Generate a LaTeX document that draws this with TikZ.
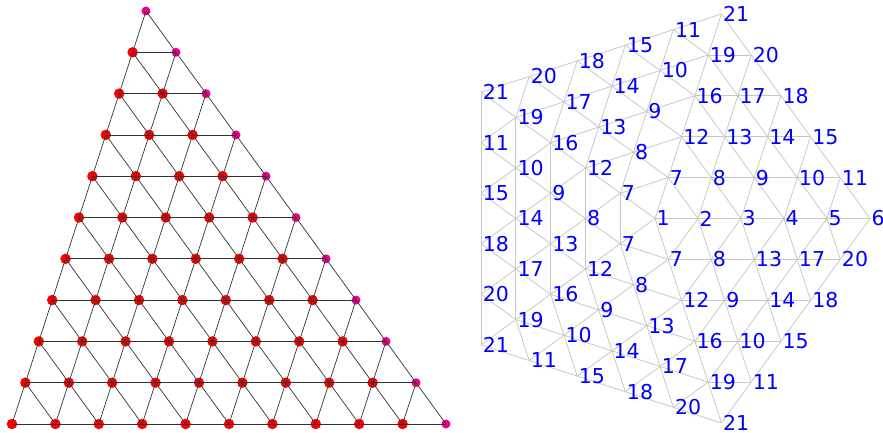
\documentclass[tikz,border=0pt]{standalone}
\usepackage{fontspec}
\setmainfont{DejaVu Sans}

\begin{document}
\begin{tikzpicture}[x=1pt, y=1pt,
    dot/.style={circle, inner sep=0pt, minimum size=10.5pt, fill=red},
    enddot/.style={circle, inner sep=0pt, minimum size=9pt, fill=magenta},
    tri/.style={black!80, line width=0.7pt},
    mesh/.style={black!22, line width=0.8pt},
    lbl/.style={anchor=west, inner xsep=1.5pt, inner ysep=0pt, text=blue,
      font=\fontsize{20.5}{24}\selectfont}]
  \useasboundingbox (0,0) rectangle (883,432);

  % left: triangular grid of 11 rows, last node of each row in magenta
  \foreach \k in {0,...,10} {
    \foreach \i in {0,...,\k} {
      \ifnum\i=\k
        \node[enddot] (t-\k-\i) at ({146-13.4*\k+43.4*\i}, {421-41.3*\k}) {};
      \else
        \node[dot] (t-\k-\i) at ({146-13.4*\k+43.4*\i}, {421-41.3*\k}) {};
      \fi
    }
  }
  \foreach \k in {0,...,9} {
    \pgfmathtruncatemacro\kk{\k+1}
    \foreach \i in {0,...,\k} {
      \pgfmathtruncatemacro\ii{\i+1}
      \draw[tri] (t-\k-\i.center) -- (t-\kk-\i.center);
      \draw[tri] (t-\k-\i.center) -- (t-\kk-\ii.center);
      \draw[tri] (t-\kk-\i.center) -- (t-\kk-\ii.center);
    }
  }

  % right: five sectors of 72 degrees round vertex 1
  \coordinate (o) at (655,213.5);
  \foreach \j in {0,...,4} {
    \foreach \a in {0,...,5} {
      \pgfmathtruncatemacro\bmax{5-\a}
      \foreach \b in {0,...,\bmax} {
        \coordinate (v-\j-\a-\b) at
          ({655+43*(\a*cos(72*\j)+\b*cos(72*\j+72))},
           {213.5+43*(\a*sin(72*\j)+\b*sin(72*\j+72))});
      }
    }
  }
  \foreach \j in {0,...,4} {
    \foreach \a in {0,...,4} {
      \pgfmathtruncatemacro\bmax{4-\a}
      \foreach \b in {0,...,\bmax} {
        \pgfmathtruncatemacro\aa{\a+1}
        \pgfmathtruncatemacro\bb{\b+1}
        \draw[mesh] (v-\j-\a-\b) -- (v-\j-\aa-\b);
        \draw[mesh] (v-\j-\aa-\b) -- (v-\j-\a-\bb);
        \ifnum\a>0 \draw[mesh] (v-\j-\a-\b) -- (v-\j-\a-\bb); \fi
      }
    }
  }

  % vertex numbers
  \node[lbl] (n-1) at (o) {1};
  \foreach \j in {0,...,4} {
    \foreach \a in {1,...,5} {
      \pgfmathtruncatemacro\bmax{5-\a}
      \foreach \b in {0,...,\bmax} {
        \pgfmathtruncatemacro\lab{\b==0 ? (\j==0 ? \a+1 : 1+6*\a-\a*(\a-1)/2) : 1+6*\b-\b*(\b-1)/2+\a}
        \node[lbl] (n-\j-\a-\b) at (v-\j-\a-\b) {\lab};
      }
    }
  }
\end{tikzpicture}
\end{document}
